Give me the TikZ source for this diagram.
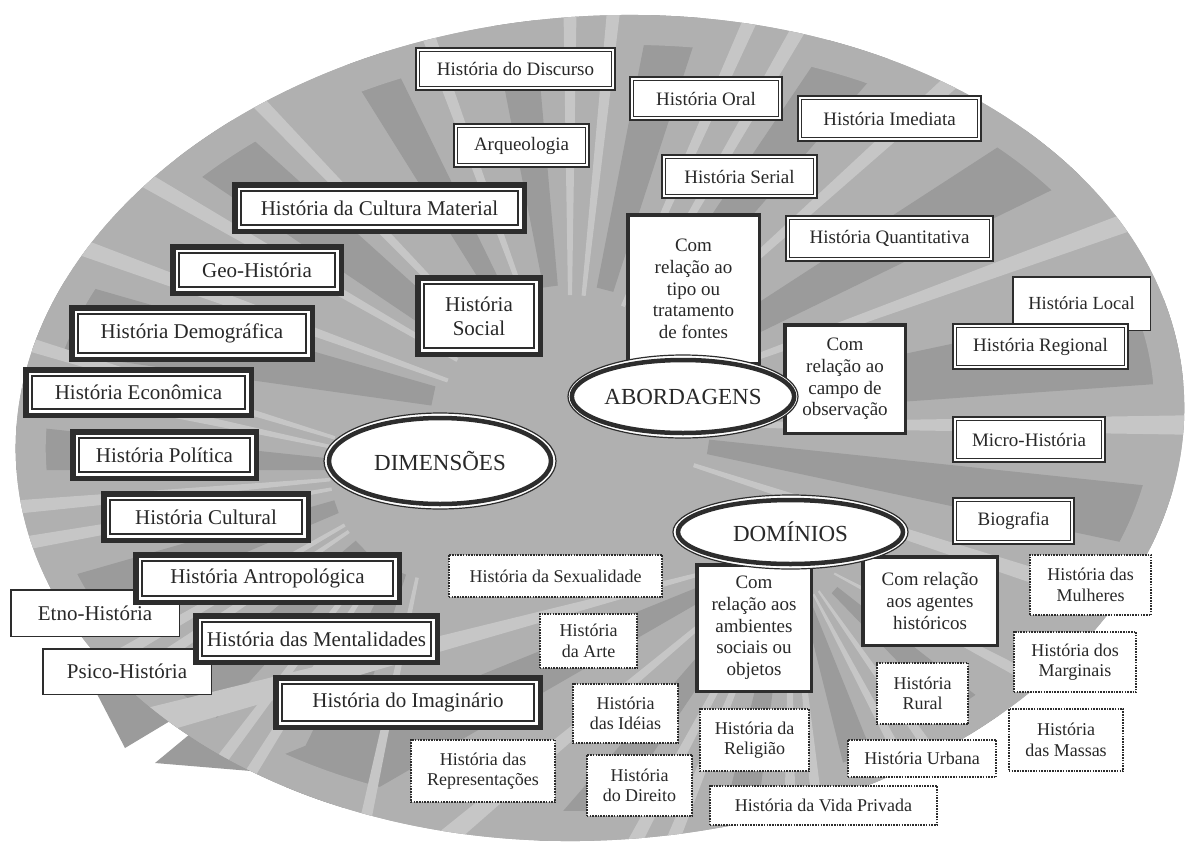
\documentclass[tikz,border=0pt]{standalone}
\usepackage{fontspec}
\setmainfont{Liberation Serif}
\usetikzlibrary{shapes.geometric}
\definecolor{dk}{RGB}{45,45,45}
\definecolor{txt}{RGB}{40,40,40}
\definecolor{bgmid}{RGB}{176,176,176}
\definecolor{bgdark}{RGB}{155,155,155}
\definecolor{bglight}{RGB}{198,198,198}
\tikzset{
  base/.style={fill=white, inner sep=0pt, align=center, text=txt, font=\fontsize{19}{21.7}\selectfont},
  dimbox/.style 2 args={base, draw=dk, line width=5.5pt, font=\fontsize{21}{24}\selectfont,
     minimum width={#1-5.5}, minimum height={#2-5.5},
     path picture={\draw[dk, line width=1.7pt] ([xshift=6pt,yshift=-6pt]path picture bounding box.north west) rectangle ([xshift=-6pt,yshift=6pt]path picture bounding box.south east);}},
  abbox/.style 2 args={base, draw=dk, line width=1.6pt, double=white, double distance=2.2pt,
     minimum width={#1-5.4}, minimum height={#2-5.4}},
  plainbox/.style 2 args={base, draw=dk, line width=1.5pt, font=\fontsize{21}{24}\selectfont,
     minimum width={#1-1.5}, minimum height={#2-1.5}},
  plainsm/.style 2 args={plainbox={#1}{#2}, font=\fontsize{18.5}{21}\selectfont},
  dotbox/.style 2 args={base, draw=dk, line width=1.6pt, dash pattern=on 1.6pt off 1.1pt,
     font=\fontsize{18}{20.5}\selectfont, minimum width={#1-1.6}, minimum height={#2-1.6}},
  combox/.style 2 args={base, draw=dk, line width=3.5pt, minimum width={#1-3.5}, minimum height={#2-3.5}},
  mainell/.style={ellipse, fill=white, draw=dk, line width=4.5pt, inner sep=0pt, text=txt,
     font=\fontsize{23}{26}\selectfont},
  ring/.style={fill=white, draw=dk, line width=1.2pt},
}
\newcommand\mybox[7]{\node[#1={#4-#2}{#5-#3}] (#6) at ({(#2+#4)/2},{(#3+#5)/2}) {#7};}
\begin{document}
\begin{tikzpicture}[x=1pt,y=-1pt]
\useasboundingbox (0,0) rectangle (1189,841);
\fill[white] (0,0) rectangle (1189,841);
% protrusions outside the ellipse (bottom left)
\fill[bgdark] (95,690) -- (125,748) -- (205,700) -- cycle;
\fill[bgdark] (155,763) -- (275,773) -- (330,712) -- (225,705) -- cycle;
% background ellipse with rays
\begin{scope}
  \clip[rotate around={4:(600,428)}] (600,428) ellipse [x radius=585, y radius=412];
  \fill[bgmid] (0,0) rectangle (1189,841);
  \begin{scope}[shift={(570,425)}]
    \foreach \a/\b in {188/196, 214/222, 238/244, 259/265, 281/288, 304/311, 327/334, 348/356, 366/372}
      \fill[bgdark] ({\a}:140) -- ({\a}:900) -- ({\b}:900) -- ({\b}:140) -- cycle;
  \end{scope}
  \begin{scope}[shift={(790,550)}]
    \foreach \a/\b in {38/46, 68/76, 97/104, 124/131, 150/158}
      \fill[bgdark] ({\a}:60) -- ({\a}:700) -- ({\b}:700) -- ({\b}:60) -- cycle;
  \end{scope}
  \begin{scope}[shift={(440,470)}]
    \foreach \a/\b in {108/116, 132/140, 157/164, 180/186}
      \fill[bgdark] ({\a}:110) -- ({\a}:700) -- ({\b}:700) -- ({\b}:110) -- cycle;
  \end{scope}
  \draw[bgmid, line width=60pt, rotate around={4:(600,428)}] (600,428) ellipse [x radius=585, y radius=412];
  \begin{scope}[shift={(570,425)}]
    \foreach \a in {200,210,226,250,270,276,294,300,318,340,360,378}
      \fill[bglight] ({\a-0.9}:130) -- ({\a-0.9}:900) -- ({\a+0.9}:900) -- ({\a+0.9}:130) -- cycle;
  \end{scope}
  \begin{scope}[shift={(790,550)}]
    \foreach \a in {28,55,62,84,90,112,118,140,165}
      \fill[bglight] ({\a-1.2}:50) -- ({\a-1.2}:700) -- ({\a+1.2}:700) -- ({\a+1.2}:50) -- cycle;
  \end{scope}
  \begin{scope}[shift={(440,470)}]
    \foreach \a in {102,122,127,146,150,170,175,192,197}
      \fill[bglight] ({\a-0.9}:110) -- ({\a-0.9}:700) -- ({\a+0.9}:700) -- ({\a+0.9}:110) -- cycle;
  \end{scope}
\end{scope}
% plain boxes
\mybox{plainbox}{10}{589}{180}{637}{etno}{Etno-História}
\mybox{plainbox}{42}{648}{212}{695}{psico}{Psico-História}
\mybox{plainsm}{1012}{276}{1151}{331}{local}{História Local}
% dimensoes boxes
\mybox{dimbox}{232}{182}{527}{234}{cultmat}{História da Cultura Material}
\mybox{dimbox}{170}{244}{344}{296}{geo}{Geo-História}
\mybox{dimbox}{415}{275}{543}{357}{social}{História\\Social}
\mybox{dimbox}{69}{305}{315}{362}{demog}{História Demográfica}
\mybox{dimbox}{23}{367}{254}{418}{econ}{História Econômica}
\mybox{dimbox}{70}{429}{259}{481}{polit}{História Política}
\mybox{dimbox}{101}{491}{311}{543}{cultural}{História Cultural}
\mybox{dimbox}{133}{552}{402}{605}{antrop}{História Antropológica}
\mybox{dimbox}{193}{613}{440}{665}{mental}{História das Mentalidades}
\mybox{dimbox}{273}{675}{543}{730}{imag}{História do Imaginário}
% abordagens boxes
\mybox{abbox}{415}{47}{616}{91}{discurso}{História do Discurso}
\mybox{abbox}{629}{76}{783}{121}{oral}{História Oral}
\mybox{abbox}{453}{123}{590}{168}{arqueo}{Arqueologia}
\mybox{abbox}{661}{154}{818}{199}{serial}{História Serial}
\mybox{abbox}{797}{95}{982}{142}{imediata}{História Imediata}
\mybox{abbox}{785}{215}{994}{262}{quant}{História Quantitativa}
\mybox{abbox}{952}{323}{1129}{370}{regional}{História Regional}
\mybox{abbox}{952}{416}{1106}{463}{micro}{Micro-História}
\mybox{abbox}{952}{497}{1075}{545}{biog}{Biografia}
% "com relacao" boxes
\mybox{combox}{626}{213}{761}{365}{tipo}{Com\\relação ao\\tipo ou\\tratamento\\de fontes}
\mybox{combox}{783}{323}{907}{435}{campo}{Com\\relação ao\\campo de\\observação}
\mybox{combox}{695}{563}{813}{693}{ambient}{Com\\relação aos\\ambientes\\sociais ou\\objetos}
\mybox{combox}{861}{555}{999}{647}{agentes}{Com relação\\aos agentes\\históricos}
% dominios boxes
\mybox{dotbox}{448}{554}{663}{598}{sexual}{História da Sexualidade}
\mybox{dotbox}{539}{613}{638}{669}{arte}{História\\da Arte}
\mybox{dotbox}{572}{683}{679}{744}{ideias}{História\\das Idéias}
\mybox{dotbox}{410}{739}{556}{803}{repres}{História das\\Representações}
\mybox{dotbox}{586}{754}{693}{817}{direito}{História\\do Direito}
\mybox{dotbox}{699}{708}{810}{772}{religiao}{História da\\Religião}
\mybox{dotbox}{709}{785}{938}{826}{vida}{História da Vida Privada}
\mybox{dotbox}{847}{739}{997}{778}{urbana}{História Urbana}
\mybox{dotbox}{876}{662}{969}{725}{rural}{História\\Rural}
\mybox{dotbox}{1008}{708}{1124}{772}{massas}{História\\das Massas}
\mybox{dotbox}{1013}{631}{1137}{693}{marginais}{História dos\\Marginais}
\mybox{dotbox}{1029}{554}{1152}{616}{mulheres}{História das\\Mulheres}
% ellipses
\filldraw[ring] (440,461) ellipse [x radius=116, y radius=48];
\node[mainell, minimum width=222pt, minimum height=86pt] (dim) at (440,461) {DIMENSÕES};
\filldraw[ring] (683,396.5) ellipse [x radius=115, y radius=41.5];
\node[mainell, minimum width=220pt, minimum height=73pt] (abord) at (683,396.5) {ABORDAGENS};
\filldraw[ring] (790.5,532) ellipse [x radius=117.5, y radius=37];
\node[mainell, minimum width=225pt, minimum height=64pt] (dom) at (790.5,532) {DOMÍNIOS};
\end{tikzpicture}
\end{document}
